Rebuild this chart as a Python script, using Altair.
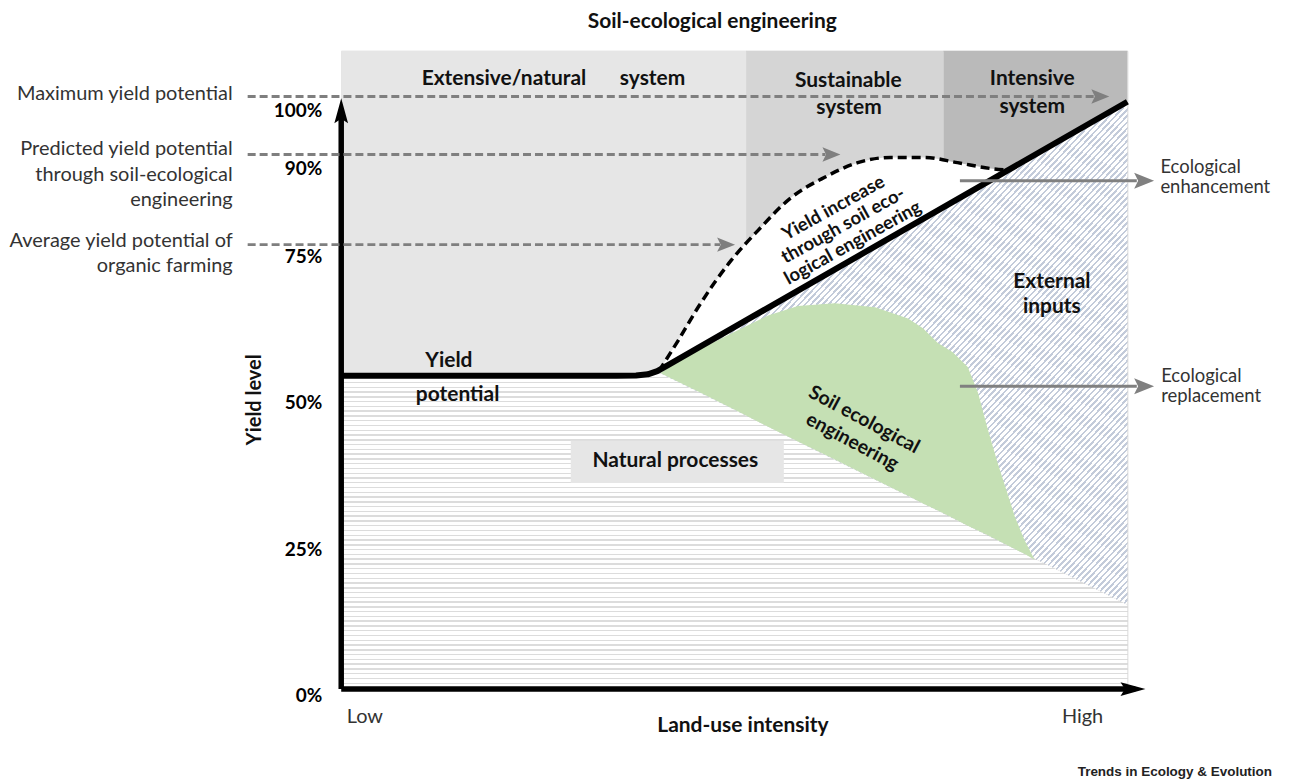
import altair as alt
import pandas as pd

FONT = "Lato"

# ---------------- data ----------------
# x: land-use intensity 0..100 (Low..High), y: yield level in %
band_names = ["Extensive", "Sustainable", "Intensive"]
band_x0 = [0, 51.5, 76.6]
band_x1 = [51.5, 76.6, 100]
band_colors = ["#e6e6e6", "#d5d5d5", "#bababa"]

# yield potential (solid black line)
yield_x = [0, 35, 37.5, 39, 40.2, 41.4, 100]
yield_y = [53.2, 53.2, 53.25, 53.45, 54.0, 54.9, 100]

# predicted yield potential through soil-ecological engineering (dashed)
pred_x = [40.4, 42.9, 45.4, 49.6, 53.0, 57.2, 61.5, 65.7, 69.9, 74.2, 78.4, 82.6, 84.8]
pred_y = [54.0, 59.3, 64.9, 72.9, 78.0, 83.6, 87.1, 89.6, 90.5, 90.5, 89.6, 88.6, 88.3]
pred_base = [53.9, 56.1, 58.0, 61.2, 63.8, 67.1, 70.4, 73.6, 76.8, 80.2, 83.4, 86.6, 88.3]

# natural processes region (top boundary)
nat_x = [0, 36.5, 38.8, 40.4, 50, 60, 70, 80, 90, 100]
nat_y = [53.2, 53.2, 53.3, 53.8, 47.4, 40.7, 34.1, 27.4, 20.8, 14.1]

# external inputs region
ext_x = [40.4, 41.4, 50, 60, 70, 80, 90, 100]
ext_top = [53.9, 54.9, 61.5, 69.2, 76.9, 84.6, 92.3, 100.0]
ext_bot = [53.8, 53.1, 47.4, 40.7, 34.1, 27.4, 20.8, 14.1]

# soil ecological engineering region
soil_x = [40.7, 45.4, 50.5, 54.3, 58.1, 62.8, 67.9, 72.1, 74.0, 75.9, 77.8, 79.7, 81.0, 82.2, 83.5, 84.8, 85.7, 86.9, 88.2]
soil_top = [53.8, 57.6, 61.0, 63.5, 65.1, 65.6, 64.9, 63.0, 61.3, 58.8, 57.2, 54.7, 50.3, 44.3, 38.3, 32.9, 29.1, 25.2, 21.8]
soil_bot = [53.6, 50.5, 47.1, 44.5, 42.0, 38.9, 35.5, 32.7, 31.4, 30.2, 28.9, 27.6, 26.8, 26.0, 25.1, 24.2, 23.6, 22.8, 21.8]

# y tick values
y_ticks = [0, 25, 50, 75, 90, 100]

# reference levels (dashed grey arrows)
ref_y = [100.9, 91.0, 75.6]
ref_x0 = [-11.9, -11.9, -11.9]
ref_tip = [97.7, 63.5, 50.1]

# ecological arrows
eco_y = [86.5, 51.4]
eco_x0 = [78.7, 78.7]
eco_tip = [103.4, 103.4]

# ---------------- tables ----------------
bands = pd.DataFrame({"name": band_names, "x0": band_x0, "x1": band_x1, "c": band_colors,
                      "lo": [0] * 3, "hi": [108.7] * 3})
yld = pd.DataFrame({"x": yield_x, "y": yield_y})
pred = pd.DataFrame({"x": pred_x, "y": pred_y, "b": pred_base})
nat = pd.DataFrame({"x": nat_x, "y": nat_y, "b": [0] * len(nat_x)})
ext = pd.DataFrame({"x": ext_x, "t": ext_top, "b": ext_bot})
soil = pd.DataFrame({"x": soil_x, "t": soil_top, "b": soil_bot})
refs = pd.DataFrame({"x0": ref_x0, "x1": [t - 1.9 for t in ref_tip], "tip": ref_tip, "y": ref_y})
ecos = pd.DataFrame({"x0": eco_x0, "x1": [t - 2.2 for t in eco_tip], "tip": eco_tip, "y": eco_y})
ticks = pd.DataFrame({"v": y_ticks})

XS = alt.Scale(domain=[0, 100], nice=False, zero=False)
YS = alt.Scale(domain=[0, 108.7], nice=False, zero=False)


def X(f, **kw):
    return alt.X(f, type="quantitative", scale=XS, axis=None, **kw)


def Y(f, **kw):
    return alt.Y(f, type="quantitative", scale=YS, axis=None, **kw)


# striped fills (texture imitation) -- styling only
def stripes(color, n, duty, x2, y2):
    stops = []
    for i in range(n):
        a = i / n
        b = (i + duty) / n
        c = (i + 1) / n
        stops += [alt.GradientStop(offset=round(a, 5), color=color),
                  alt.GradientStop(offset=round(b, 5), color=color),
                  alt.GradientStop(offset=round(b, 5), color="#ffffff"),
                  alt.GradientStop(offset=round(c, 5), color="#ffffff")]
    return alt.LinearGradient(gradient="linear", stops=stops, x1=0, y1=0, x2=x2, y2=y2)


band_layer = alt.Chart(bands).mark_rect().encode(
    x=X("x0"), x2="x1", y=Y("lo"), y2="hi", color=alt.Color("c:N", scale=None))

nat_layer = alt.Chart(nat).mark_area(color=stripes("#dcdcdc", 66, 0.3, 0, 1)).encode(x=X("x"), y=Y("y"), y2="b")
ext_layer = alt.Chart(ext).mark_area(color=stripes("#c3cbda", 160, 0.42, 1, 1)).encode(x=X("x"), y=Y("t"), y2="b")
white_layer = alt.Chart(pred).mark_area(color="#ffffff", interpolate="monotone").encode(x=X("x"), y=Y("y"), y2="b")
soil_layer = alt.Chart(soil).mark_area(color="#c5e0b4").encode(x=X("x"), y=Y("t"), y2="b")

pred_line = alt.Chart(pred).mark_line(color="#000", strokeWidth=3.5, strokeDash=[9, 5], interpolate="monotone").encode(
    x=X("x"), y=Y("y"))
yield_line = alt.Chart(yld).mark_line(color="#000", strokeWidth=6, strokeJoin="round").encode(x=X("x"), y=Y("y"))

# Natural processes box
box = alt.Chart(pd.DataFrame({"x0": [29.2], "x1": [56.3], "y0": [34.9], "y1": [42.1]})).mark_rect(color="#e6e6e6").encode(
    x=X("x0"), x2="x1", y=Y("y0"), y2="y1")

# axes lines + arrowheads
axes = pd.DataFrame({"x0": [0, 0], "x1": [0, 101.0], "y0": [-0.3, -0.3], "y1": [97.5, -0.3]})
axis_rules = alt.Chart(axes).mark_rule(color="#000", strokeWidth=5.5).encode(x=X("x0"), x2="x1", y=Y("y0"), y2="y1")
up_head = alt.Chart(pd.DataFrame({"x": [0], "y": [100.6]})).mark_point(
    shape="M0,0L0.55,2L0,1.65L-0.55,2Z", size=625, filled=True, color="#000", opacity=1).encode(x=X("x"), y=Y("y"))
right_head = alt.Chart(pd.DataFrame({"x": [102.3], "y": [-0.3]})).mark_point(
    shape="M0,0L-2,-0.55L-1.65,0L-2,0.55Z", size=625, filled=True, color="#000", opacity=1).encode(x=X("x"), y=Y("y"))

# reference dashed arrows
ref_rules = alt.Chart(refs).mark_rule(color="#7f7f7f", strokeWidth=3, strokeDash=[8, 4]).encode(
    x=X("x0"), x2="x1", y=Y("y"))
ref_heads = alt.Chart(refs).mark_point(shape="M0,0L-2,-0.8L-1.6,0L-2,0.8Z", size=324, filled=True,
                                       color="#7f7f7f", opacity=1).encode(x=X("tip"), y=Y("y"))
eco_rules = alt.Chart(ecos).mark_rule(color="#808080", strokeWidth=3).encode(x=X("x0"), x2="x1", y=Y("y"))
eco_heads = alt.Chart(ecos).mark_point(shape="M0,0L-2,-0.8L-1.6,0L-2,0.8Z", size=400, filled=True,
                                       color="#808080", opacity=1).encode(x=X("tip"), y=Y("y"))

# y tick labels
tick_labels = alt.Chart(ticks).transform_calculate(
    lab="datum.v + '%'", ypos="datum.v - 1.53", xpos="-2.4"
).mark_text(font=FONT, fontWeight="bold", fontSize=19, align="right", baseline="middle", color="#000").encode(
    x=X("xpos:Q"), y=Y("ypos:Q"), text="lab:N")


# ---------------- texts ----------------
def texts(df, **mk):
    return alt.Chart(df).mark_text(font=FONT, lineBreak="\n", **mk).encode(x=X("x"), y=Y("y"), text="t:N")


bold_center = pd.DataFrame({
    "t": ["Soil-ecological engineering", "Extensive/natural", "system", "Sustainable", "system", "Intensive",
          "system", "Yield", "potential", "Natural processes", "External", "inputs", "Land-use intensity"],
    "x": [47.2, 20.7, 39.6, 64.5, 64.6, 87.9, 87.9, 13.7, 14.8, 42.5, 90.4, 90.4, 51.1],
    "y": [113.6, 103.9, 103.9, 103.6, 99.0, 103.9, 99.1, 55.7, 49.9, 38.7, 69.2, 64.9, -6.6],
})
left_labels = pd.DataFrame({
    "t": ["Maximum yield potential", "Predicted yield potential\nthrough soil-ecological\nengineering",
          "Average yield potential of\norganic farming"],
    "x": [-13.8] * 3,
    "y": [101.4, 92.0, 76.3],
})
right_labels = pd.DataFrame({
    "t": ["Ecological\nenhancement", "Ecological\nreplacement"],
    "x": [104.2, 104.3],
    "y": [88.8, 53.1],
})
axis_words = pd.DataFrame({"t": ["Low", "High"], "x": [3.0, 94.3], "y": [-5.1, -5.1]})
soil_text = pd.DataFrame({"t": ["Soil ecological\nengineering"], "x": [66.5], "y": [45.7]})
incr_text = pd.DataFrame({"t": ["Yield increase\nthrough soil eco-\nlogical engineering"], "x": [62.6], "y": [81.9]})
ylab = pd.DataFrame({"t": ["Yield level"], "x": [-11.0], "y": [49.1]})
credit = pd.DataFrame({"t": ["Trends in Ecology & Evolution"], "x": [118.4], "y": [-14.5]})

t_bold = texts(bold_center, fontWeight="bold", fontSize=21, align="center", baseline="middle", color="#111")
t_left = texts(left_labels, fontSize=20, align="right", baseline="middle", color="#333", lineHeight=26)
t_right = texts(right_labels, fontSize=18.5, align="left", baseline="middle", color="#333", lineHeight=20)
t_axis = texts(axis_words, fontSize=20, align="center", baseline="middle", color="#333")
t_soil = texts(soil_text, fontWeight="bold", fontSize=19.5, align="center", baseline="middle", angle=28,
               color="#111", lineHeight=25)
t_incr = texts(incr_text, fontWeight="bold", fontSize=18.5, align="center", baseline="middle", angle=331,
               color="#111", lineHeight=20)
t_ylab = texts(ylab, fontWeight="bold", fontSize=20, align="center", baseline="middle", angle=270, color="#111")
t_credit = alt.Chart(credit).mark_text(font="Liberation Sans", fontWeight="bold", fontSize=13.5, align="right",
                                       baseline="middle", color="#222").encode(x=X("x"), y=Y("y"), text="t:N")

chart = alt.layer(
    band_layer, nat_layer, ext_layer, white_layer, soil_layer, box,
    pred_line, yield_line, axis_rules, up_head, right_head,
    ref_rules, ref_heads, eco_rules, eco_heads, tick_labels,
    t_bold, t_left, t_right, t_axis, t_soil, t_incr, t_ylab, t_credit,
).properties(
    width=788, height=638,
    autosize=alt.AutoSizeParams(type="none"),
    padding={"left": 334, "top": 42, "right": 155, "bottom": 92},
).configure_view(stroke=None).configure(background="#ffffff")

chart.save("out.html", embed_options={"renderer": "svg", "actions": False})
